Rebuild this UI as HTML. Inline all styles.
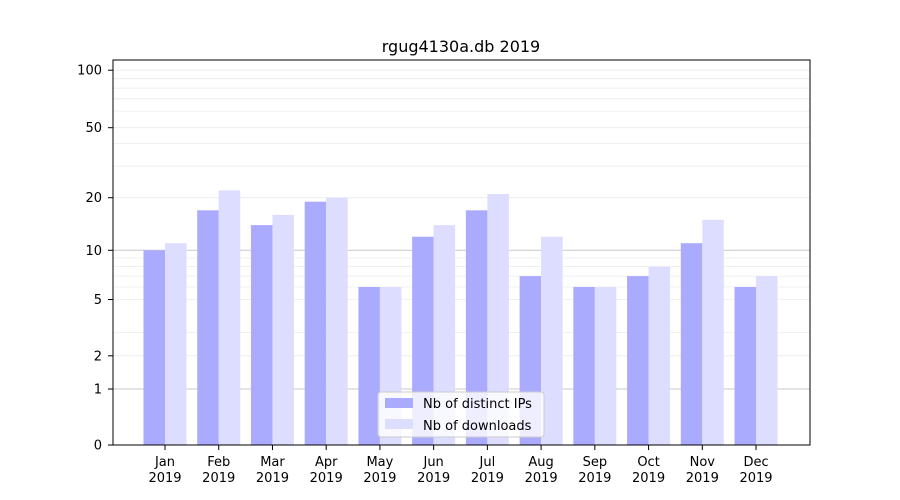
<!DOCTYPE html>
<html><head><style>body{margin:0;background:#fff}svg{display:block;font-family:"DejaVu Sans","Liberation Sans",sans-serif}</style></head>
<body>
<svg width="900" height="500" xmlns="http://www.w3.org/2000/svg">
<rect width="900" height="500" fill="#fff"/>
<g stroke="#ebebeb" stroke-width="0.8">
<line x1="113" x2="810" y1="355.8" y2="355.8"/><line x1="113" x2="810" y1="332.4" y2="332.4"/>
<line x1="113" x2="810" y1="299.5" y2="299.5"/><line x1="113" x2="810" y1="287" y2="287"/>
<line x1="113" x2="810" y1="276.1" y2="276.1"/><line x1="113" x2="810" y1="266.6" y2="266.6"/>
<line x1="113" x2="810" y1="258" y2="258"/><line x1="113" x2="810" y1="197.7" y2="197.7"/>
<line x1="113" x2="810" y1="166.1" y2="166.1"/><line x1="113" x2="810" y1="143.4" y2="143.4"/>
<line x1="113" x2="810" y1="127.7" y2="127.7"/><line x1="113" x2="810" y1="111.1" y2="111.1"/>
<line x1="113" x2="810" y1="98.8" y2="98.8"/><line x1="113" x2="810" y1="88.1" y2="88.1"/>
<line x1="113" x2="810" y1="78.7" y2="78.7"/><line x1="113" x2="810" y1="70.2" y2="70.2"/>
</g>
<g stroke="#c8c8c8" stroke-width="1">
<line x1="113" x2="810" y1="389" y2="389"/><line x1="113" x2="810" y1="250.3" y2="250.3"/>
</g>
<g fill="#aaaaff">
<rect x="143.5" y="250.3" width="21.5" height="194.7"/>
<rect x="197.23" y="210.3" width="21.5" height="234.7"/>
<rect x="250.96" y="225.1" width="21.5" height="219.9"/>
<rect x="304.69" y="201.7" width="21.5" height="243.3"/>
<rect x="358.42" y="287" width="21.5" height="158"/>
<rect x="412.15" y="236.7" width="21.5" height="208.3"/>
<rect x="465.88" y="210.3" width="21.5" height="234.7"/>
<rect x="519.61" y="276.1" width="21.5" height="168.9"/>
<rect x="573.34" y="287" width="21.5" height="158"/>
<rect x="627.07" y="276.1" width="21.5" height="168.9"/>
<rect x="680.8" y="243.2" width="21.5" height="201.8"/>
<rect x="734.53" y="287" width="21.5" height="158"/>
</g>
<g fill="#ddddff">
<rect x="165" y="243.2" width="21.5" height="201.8"/>
<rect x="218.73" y="190.4" width="21.5" height="254.6"/>
<rect x="272.46" y="214.9" width="21.5" height="230.1"/>
<rect x="326.19" y="197.7" width="21.5" height="247.3"/>
<rect x="379.92" y="287" width="21.5" height="158"/>
<rect x="433.65" y="225.1" width="21.5" height="219.9"/>
<rect x="487.38" y="194" width="21.5" height="251"/>
<rect x="541.11" y="236.7" width="21.5" height="208.3"/>
<rect x="594.84" y="287" width="21.5" height="158"/>
<rect x="648.57" y="266.6" width="21.5" height="178.4"/>
<rect x="702.3" y="219.8" width="21.5" height="225.2"/>
<rect x="756.03" y="276.1" width="21.5" height="168.9"/>
</g>
<rect x="113" y="60" width="697" height="385" fill="none" stroke="#000" stroke-width="1"/>
<text x="461" y="52" font-size="16" text-anchor="middle">rgug4130a.db 2019</text>
<g font-size="13" text-anchor="end">
<text x="102" y="449.5">0</text><text x="102" y="393.5">1</text><text x="102" y="360.3">2</text>
<text x="102" y="304">5</text><text x="102" y="254.8">10</text><text x="102" y="202.2">20</text>
<text x="102" y="132.2">50</text><text x="102" y="74.7">100</text>
</g>
<g stroke="#000"><line x1="108" x2="113" y1="445" y2="445"/><line x1="108" x2="113" y1="389" y2="389"/><line x1="108" x2="113" y1="355.8" y2="355.8"/><line x1="108" x2="113" y1="299.5" y2="299.5"/><line x1="108" x2="113" y1="250.3" y2="250.3"/><line x1="108" x2="113" y1="197.7" y2="197.7"/><line x1="108" x2="113" y1="127.7" y2="127.7"/><line x1="108" x2="113" y1="70.2" y2="70.2"/>
<line x1="165" x2="165" y1="445" y2="450"/><line x1="218.73" x2="218.73" y1="445" y2="450"/><line x1="272.46" x2="272.46" y1="445" y2="450"/><line x1="326.19" x2="326.19" y1="445" y2="450"/><line x1="379.92" x2="379.92" y1="445" y2="450"/><line x1="433.65" x2="433.65" y1="445" y2="450"/><line x1="487.38" x2="487.38" y1="445" y2="450"/><line x1="541.11" x2="541.11" y1="445" y2="450"/><line x1="594.84" x2="594.84" y1="445" y2="450"/><line x1="648.57" x2="648.57" y1="445" y2="450"/><line x1="702.3" x2="702.3" y1="445" y2="450"/><line x1="756.03" x2="756.03" y1="445" y2="450"/></g>
<g font-size="13" text-anchor="middle">
<text x="165" y="466">Jan</text><text x="165" y="482">2019</text>
<text x="218.73" y="466">Feb</text><text x="218.73" y="482">2019</text>
<text x="272.46" y="466">Mar</text><text x="272.46" y="482">2019</text>
<text x="326.19" y="466">Apr</text><text x="326.19" y="482">2019</text>
<text x="379.92" y="466">May</text><text x="379.92" y="482">2019</text>
<text x="433.65" y="466">Jun</text><text x="433.65" y="482">2019</text>
<text x="487.38" y="466">Jul</text><text x="487.38" y="482">2019</text>
<text x="541.11" y="466">Aug</text><text x="541.11" y="482">2019</text>
<text x="594.84" y="466">Sep</text><text x="594.84" y="482">2019</text>
<text x="648.57" y="466">Oct</text><text x="648.57" y="482">2019</text>
<text x="702.3" y="466">Nov</text><text x="702.3" y="482">2019</text>
<text x="756.03" y="466">Dec</text><text x="756.03" y="482">2019</text>
</g>
<g>
<rect x="378" y="392" width="166" height="45" fill="#fff" fill-opacity="0.8" stroke="#ccc" rx="3"/>
<rect x="385" y="398" width="28" height="10" fill="#aaaaff"/>
<rect x="385" y="419" width="28" height="10" fill="#ddddff"/>
<text x="423" y="408" font-size="13">Nb of distinct IPs</text>
<text x="423" y="430" font-size="13">Nb of downloads</text>
</g>
</svg>
</body></html>
